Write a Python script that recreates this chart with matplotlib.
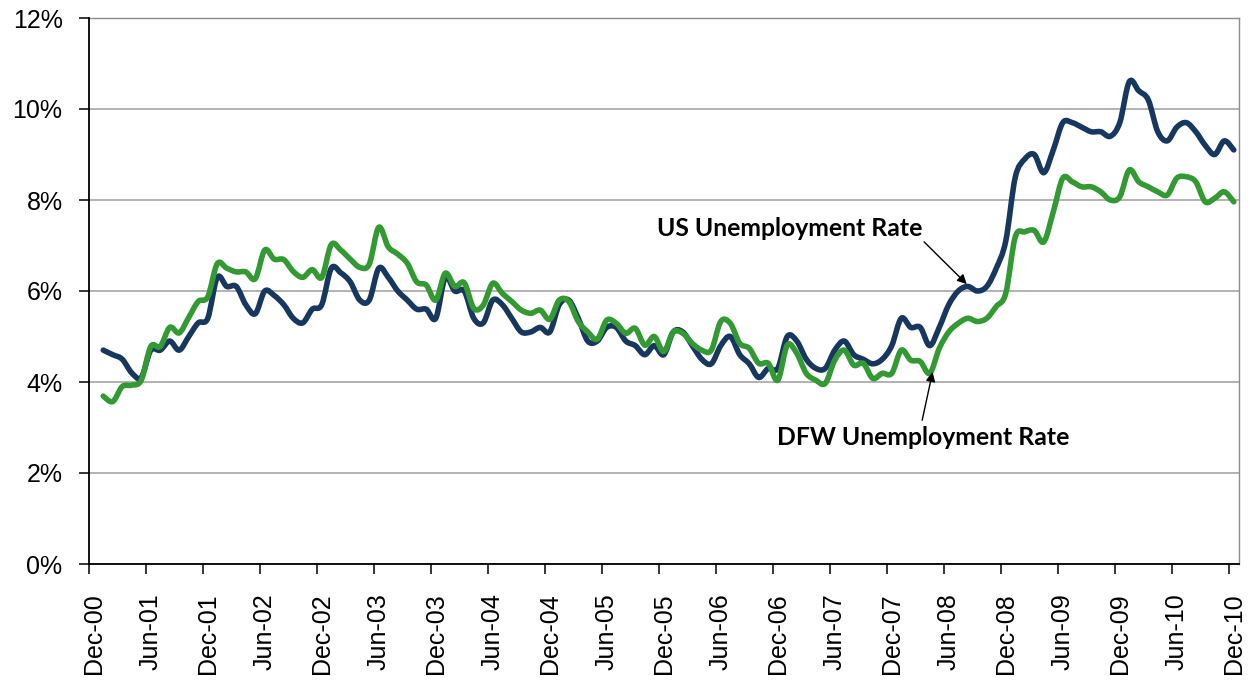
import numpy as np
import matplotlib
matplotlib.use("Agg")
import matplotlib.pyplot as plt
from matplotlib.path import Path
from matplotlib.patches import PathPatch
import matplotlib.transforms as mtransforms

# ---------------- data (Jan-01 .. Dec-10, monthly, %) ----------------
us_rate = [
    4.7, 4.6, 4.5, 4.2, 4.1, 4.7, 4.7, 4.9, 4.7, 5.0, 5.3, 5.4,   # 2001
    6.3, 6.1, 6.1, 5.7, 5.5, 6.0, 5.9, 5.7, 5.4, 5.3, 5.6, 5.7,   # 2002
    6.5, 6.4, 6.2, 5.8, 5.8, 6.5, 6.3, 6.0, 5.8, 5.6, 5.6, 5.4,   # 2003
    6.3, 6.0, 6.0, 5.4, 5.3, 5.8, 5.7, 5.4, 5.1, 5.1, 5.2, 5.1,   # 2004
    5.7, 5.8, 5.4, 4.9, 4.9, 5.2, 5.2, 4.9, 4.8, 4.6, 4.8, 4.6,   # 2005
    5.1, 5.1, 4.8, 4.5, 4.4, 4.8, 5.0, 4.6, 4.4, 4.1, 4.3, 4.3,   # 2006
    5.0, 4.9, 4.5, 4.3, 4.3, 4.7, 4.9, 4.6, 4.5, 4.4, 4.5, 4.8,   # 2007
    5.4, 5.2, 5.2, 4.8, 5.2, 5.7, 6.0, 6.1, 6.0, 6.1, 6.5, 7.1,   # 2008
    8.5, 8.9, 9.0, 8.6, 9.1, 9.7, 9.7, 9.6, 9.5, 9.5, 9.4, 9.7,   # 2009
    10.6, 10.4, 10.2, 9.5, 9.3, 9.6, 9.7, 9.5, 9.2, 9.0, 9.3, 9.1,  # 2010
]
dfw_rate = [
    3.69, 3.57, 3.90, 3.93, 4.04, 4.78, 4.78, 5.20, 5.08, 5.42, 5.77, 5.87,  # 2001
    6.60, 6.50, 6.42, 6.42, 6.27, 6.90, 6.70, 6.69, 6.43, 6.30, 6.47, 6.30,  # 2002
    7.02, 6.90, 6.70, 6.52, 6.59, 7.40, 6.97, 6.81, 6.61, 6.20, 6.13, 5.80,  # 2003
    6.39, 6.10, 6.18, 5.62, 5.69, 6.17, 5.95, 5.77, 5.58, 5.51, 5.58, 5.38,  # 2004
    5.80, 5.77, 5.33, 5.10, 4.94, 5.36, 5.29, 5.07, 5.18, 4.81, 5.00, 4.67,  # 2005
    5.10, 5.07, 4.85, 4.70, 4.70, 5.33, 5.29, 4.85, 4.74, 4.41, 4.41, 4.04,  # 2006
    4.81, 4.63, 4.19, 4.04, 3.97, 4.48, 4.70, 4.37, 4.41, 4.08, 4.19, 4.19,  # 2007
    4.70, 4.48, 4.45, 4.19, 4.74, 5.10, 5.29, 5.40, 5.33, 5.40, 5.66, 5.95,  # 2008
    7.19, 7.30, 7.33, 7.08, 7.74, 8.48, 8.40, 8.29, 8.29, 8.18, 8.00, 8.07,  # 2009
    8.66, 8.40, 8.29, 8.18, 8.11, 8.48, 8.51, 8.40, 7.96, 8.04, 8.18, 7.96,  # 2010
]
tick_labels = ["Dec-00", "Jun-01", "Dec-01", "Jun-02", "Dec-02", "Jun-03",
               "Dec-03", "Jun-04", "Dec-04", "Jun-05", "Dec-05", "Jun-06",
               "Dec-06", "Jun-07", "Dec-07", "Jun-08", "Dec-08", "Jun-09",
               "Dec-09", "Jun-10", "Dec-10"]
y_ticks = [0, 2, 4, 6, 8, 10, 12]

BLUE = "#17375E"
GREEN = "#339933"


def smooth_path(xs, ys):
    """Excel-like smoothed line: cubic Bezier through every data point."""
    p = np.column_stack([xs, ys]).astype(float)
    n = len(p)
    verts = [p[0]]
    codes = [Path.MOVETO]
    for i in range(n - 1):
        p_prev = p[i - 1] if i > 0 else p[i]
        p_next2 = p[i + 2] if i + 2 < n else p[i + 1]
        c1 = p[i] + (p[i + 1] - p_prev) / 6.0
        c2 = p[i + 1] - (p_next2 - p[i]) / 6.0
        verts += [c1, c2, p[i + 1]]
        codes += [Path.CURVE4] * 3
    return Path(verts, codes)


fig = plt.figure(figsize=(12.54, 6.81), dpi=100)
ax = fig.add_axes([89 / 1254, 1 - 564 / 681, (1239 - 89) / 1254, (564 - 18) / 681])

x = np.arange(1, len(us_rate) + 1) + 0.5

for vals, col, z in [(us_rate, BLUE, 3), (dfw_rate, GREEN, 4)]:
    patch = PathPatch(smooth_path(x, vals), facecolor="none", edgecolor=col,
                      lw=4.0, capstyle="round", joinstyle="round", zorder=z)
    ax.add_patch(patch)

ax.set_xlim(0, 121.05)
ax.set_ylim(0, 12)

ax.set_yticks(y_ticks)
ax.set_yticklabels([f"{v}%" for v in y_ticks])
ax.set_xticks(np.arange(0, 121, 6))
ax.set_xticklabels(tick_labels, rotation=90)

ax.grid(axis="y", color="#A6A6A6", lw=1.2, zorder=1)
ax.set_axisbelow(True)

for s in ["left", "bottom"]:
    ax.spines[s].set_color("black")
    ax.spines[s].set_linewidth(1.3)
    ax.spines[s].set_zorder(5)
for s in ["top", "right"]:
    ax.spines[s].set_color("#8C8C8C")
    ax.spines[s].set_linewidth(1.0)

font = "Liberation Sans"
ax.tick_params(axis="y", length=7, width=1.1, pad=12, labelsize=18, direction="out")
ax.tick_params(axis="x", length=7, width=1.1, pad=14, labelsize=18, direction="out")
for lab in ax.get_yticklabels() + ax.get_xticklabels():
    lab.set_fontfamily(font)

offset = mtransforms.ScaledTranslation(5 / 100, 0, fig.dpi_scale_trans)
for lab in ax.get_xticklabels():
    lab.set_transform(lab.get_transform() + offset)

ann_font = ["Lato", "DejaVu Sans"]
arrow_kw = dict(arrowstyle="-|>", color="black", lw=1.0,
                shrinkA=0, shrinkB=0, mutation_scale=14)

ax.text(73.8, 7.38, "US Unemployment Rate", ha="center", va="center",
        fontsize=17.8, fontweight="bold", family=ann_font, color="black", zorder=6)
ax.annotate("", xy=(92.4, 6.15), xytext=(87.9, 7.08), arrowprops=arrow_kw, zorder=6)

ax.text(87.8, 2.77, "DFW Unemployment Rate", ha="center", va="center",
        fontsize=17.8, fontweight="bold", family=ann_font, color="black", zorder=6)
ax.annotate("", xy=(88.8, 4.22), xytext=(87.7, 3.16), arrowprops=arrow_kw, zorder=6)

fig.savefig("out.png", dpi=100)
